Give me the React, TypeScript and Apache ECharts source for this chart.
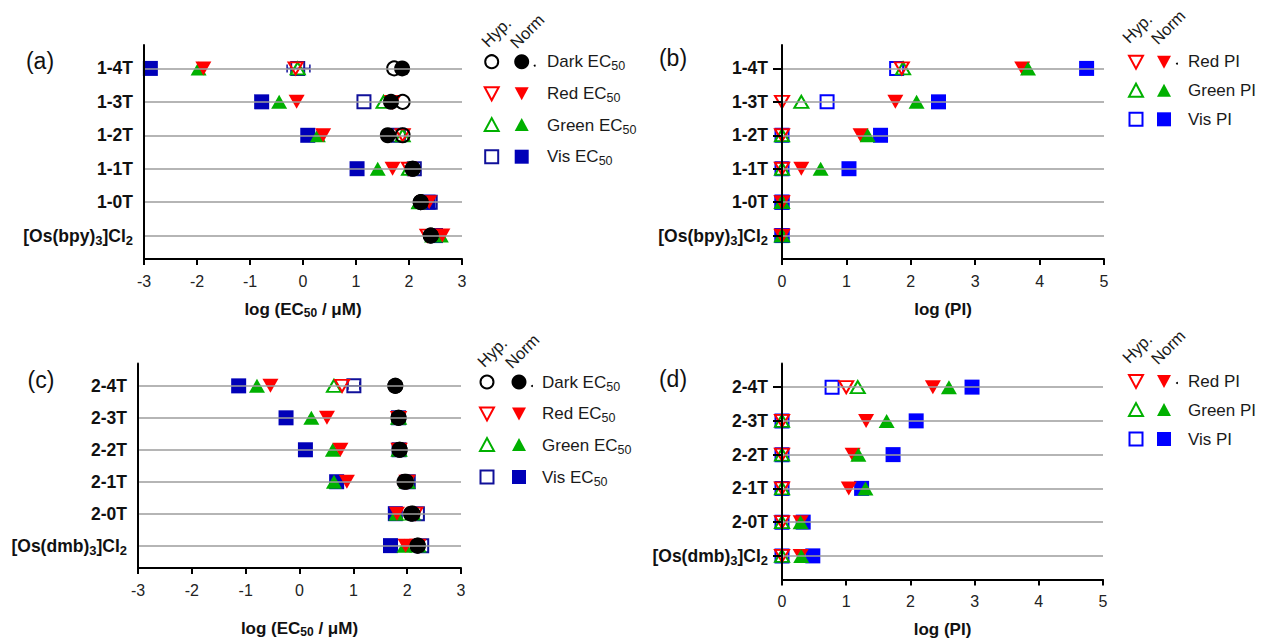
import React, { useEffect, useRef } from 'react';
import * as echarts from 'echarts';

// ---------- categories (top -> bottom) ----------
const catsA = ['1-4T', '1-3T', '1-2T', '1-1T', '1-0T', '[Os(bpy)3]Cl2'];
const catsC = ['2-4T', '2-3T', '2-2T', '2-1T', '2-0T', '[Os(dmb)3]Cl2'];

// ---------- tick values ----------
const ecTicks = [-3, -2, -1, 0, 1, 2, 3];
const piTicks = [0, 1, 2, 3, 4, 5];

// ---------- panel (a): log(EC50 / uM) ----------
const darkHypA = [1.72, 1.88, 1.88, 2.07, 2.22, 2.41];
const darkNormA = [1.87, 1.66, 1.6, 2.07, 2.22, 2.41];
const redHypA = [-0.14, 1.69, 1.88, 2.0, 2.3, 2.35];
const redNormA = [-1.88, -0.12, 0.38, 1.69, 2.38, 2.63];
const greenHypA = [-0.1, 1.52, 1.88, 2.0, 2.2, 2.45];
const greenNormA = [-1.97, -0.45, 0.28, 1.41, 2.18, 2.6];
const visHypA = [-0.1, 1.15, 1.8, 2.1, 2.4, 2.5];
const visNormA = [-2.88, -0.78, 0.09, 1.02, 2.36, 2.5];
const visHypErrA = [[-0.3, 0.13, 0]]; // [low, high, row]

// ---------- panel (c): log(EC50 / uM) ----------
const darkHypC = [1.78, 1.84, 1.86, 1.98, 2.1, 2.2];
const darkNormC = [1.78, 1.84, 1.86, 1.95, 2.07, 2.19];
const redHypC = [0.79, 1.84, 1.85, 2.0, 2.15, 2.2];
const redNormC = [-0.54, 0.51, 0.76, 0.88, 1.81, 1.97];
const greenHypC = [0.64, 1.84, 1.85, 2.0, 2.1, 2.2];
const greenNormC = [-0.79, 0.22, 0.62, 0.64, 1.8, 1.95];
const visHypC = [1.01, 1.84, 1.85, 2.02, 2.19, 2.27];
const visNormC = [-1.13, -0.25, 0.11, 0.69, 1.78, 1.69];
const visHypErrC = [[0.9, 1.12, 0]];

// ---------- panel (b): log(PI) ----------
const redHypB = [1.86, 0, 0, 0, 0, 0];
const redNormB = [3.73, 1.76, 1.22, 0.3, 0, 0];
const greenHypB = [1.88, 0.3, 0, 0, 0, 0];
const greenNormB = [3.82, 2.09, 1.33, 0.6, 0, 0];
const visHypB = [1.78, 0.7, 0, 0, 0, 0];
const visNormB = [4.73, 2.43, 1.53, 1.04, 0, 0];

// ---------- panel (d): log(PI) ----------
const redHypD = [1.0, 0, 0, 0, 0, 0];
const redNormD = [2.35, 1.31, 1.1, 1.04, 0.29, 0.29];
const greenHypD = [1.18, 0, 0, 0, 0, 0];
const greenNormD = [2.6, 1.63, 1.19, 1.3, 0.29, 0.3];
const visHypD = [0.78, 0, 0, 0, 0, 0];
const visNormD = [2.96, 2.09, 1.73, 1.24, 0.33, 0.48];

// ---------- legend labels ----------
const legendEC = ['Dark', 'Red', 'Green', 'Vis'];
const legendPI = ['Red PI', 'Green PI', 'Vis PI'];

const FONT = 'Liberation Sans, Arial, Helvetica, sans-serif';
const RED = '#ff0000';
const GREEN = '#00b000';
const BLUE_A = '#0000b8';
const BLUE_A_OPEN = '#10109a';
const BLUE_B = '#0000ff';
const GRID_GRAY = '#9c9c9c';

const N = 6;
const rowVals = [1, 2, 3, 4, 5, 6];
const rowY = (i: number) => N - i;

function richName(name: string) {
  const m = name.match(/^\[Os\((\w+)\)(\d)\]Cl(\d)$/);
  if (m) return `{b|[Os(${m[1]})}{s|${m[2]}}{b|]Cl}{s|${m[3]}}`;
  return `{b|${name}}`;
}

const labelRich = {
  b: { fontSize: 17.5, fontWeight: 'bold', fontFamily: FONT, color: '#111', lineHeight: 22, verticalAlign: 'middle' },
  s: { fontSize: 13, fontWeight: 'bold', fontFamily: FONT, color: '#111', lineHeight: 13, verticalAlign: 'bottom' },
};

function scatter(
  axis: number,
  values: number[],
  symbol: string,
  color: string,
  hollow: boolean,
  rotate: number,
  size: number | number[],
) {
  return {
    type: 'scatter',
    xAxisIndex: axis,
    yAxisIndex: axis,
    data: values.map((v, i) => [v, rowY(i)]),
    symbol,
    symbolSize: size,
    symbolRotate: rotate,
    silent: true,
    itemStyle: hollow
      ? { color: 'rgba(255,255,255,0)', borderColor: color, borderWidth: 2, opacity: 1 }
      : { color, opacity: 1 },
  };
}

function gridLines(axis: number) {
  return {
    type: 'scatter',
    xAxisIndex: axis,
    yAxisIndex: axis,
    data: [],
    silent: true,
    markLine: {
      silent: true,
      symbol: ['none', 'none'],
      label: { show: false },
      lineStyle: { color: GRID_GRAY, width: 1.5, type: 'solid' },
      data: rowVals.map((v) => ({ yAxis: v })),
    },
  };
}

function errBars(axis: number, data: number[][], color: string) {
  return {
    type: 'custom',
    xAxisIndex: axis,
    yAxisIndex: axis,
    silent: true,
    data: data.map((d) => [d[0], d[1], rowY(d[2])]),
    encode: { x: [0, 1], y: 2 },
    renderItem: (params: any, api: any) => {
      const lo = api.coord([api.value(0), api.value(2)]);
      const hi = api.coord([api.value(1), api.value(2)]);
      const st = { stroke: color, lineWidth: 1.5 };
      return {
        type: 'group',
        children: [
          { type: 'line', shape: { x1: lo[0], y1: lo[1], x2: hi[0], y2: hi[1] }, style: st },
          { type: 'line', shape: { x1: lo[0], y1: lo[1] - 4, x2: lo[0], y2: lo[1] + 4 }, style: st },
          { type: 'line', shape: { x1: hi[0], y1: hi[1] - 4, x2: hi[0], y2: hi[1] + 4 }, style: st },
        ],
      };
    },
  };
}

function xAxisCfg(grid: number, ticks: number[], nameRich: string, nameGap: number) {
  return {
    gridIndex: grid,
    type: 'value',
    min: ticks[0],
    max: ticks[ticks.length - 1],
    interval: 1,
    axisLine: { onZero: false, lineStyle: { color: '#000', width: 2 } },
    axisTick: { show: true, length: 6, lineStyle: { color: '#000', width: 2 } },
    axisLabel: { fontSize: 16, color: '#222', fontFamily: FONT, margin: 14 },
    splitLine: { show: false },
    name: nameRich,
    nameLocation: 'middle',
    nameGap,
    nameTextStyle: {
      rich: {
        b: { fontSize: 17, fontWeight: 'bold', fontFamily: FONT, color: '#111', lineHeight: 20, verticalAlign: 'middle' },
        s: { fontSize: 12, fontWeight: 'bold', fontFamily: FONT, color: '#111', lineHeight: 12, verticalAlign: 'bottom' },
      },
    },
  };
}

function yAxisCfg(grid: number, cats: string[], ticks: boolean, margin: number) {
  return {
    gridIndex: grid,
    type: 'value',
    min: 0.3,
    max: 6.7,
    z: 5,
    axisLine: { onZero: false, lineStyle: { color: '#000', width: 2 } },
    axisTick: { show: ticks, length: 9, customValues: rowVals, lineStyle: { color: '#000', width: 2 } },
    axisLabel: {
      customValues: rowVals,
      margin,
      formatter: (v: number) => richName(cats[N - Math.round(v)]),
      rich: labelRich,
    },
    splitLine: { show: false },
  };
}

// ---------- legend graphics ----------
function openCircle(x: number, y: number) {
  return { type: 'circle', shape: { cx: x, cy: y, r: 6.5 }, style: { fill: 'none', stroke: '#000', lineWidth: 2 } };
}
function fillCircle(x: number, y: number) {
  return { type: 'circle', shape: { cx: x, cy: y, r: 7.5 }, style: { fill: '#000' } };
}
function downTri(x: number, y: number, color: string, hollow: boolean) {
  const pts = [[x - 7, y - 6], [x + 7, y - 6], [x, y + 7]];
  return { type: 'polygon', shape: { points: pts }, style: hollow ? { fill: 'none', stroke: color, lineWidth: 2 } : { fill: color } };
}
function upTri(x: number, y: number, color: string, hollow: boolean) {
  const pts = [[x - 7, y + 6], [x + 7, y + 6], [x, y - 7]];
  return { type: 'polygon', shape: { points: pts }, style: hollow ? { fill: 'none', stroke: color, lineWidth: 2 } : { fill: color } };
}
function square(x: number, y: number, color: string, hollow: boolean) {
  const s = hollow ? 13 : 14;
  return {
    type: 'rect',
    shape: { x: x - s / 2, y: y - s / 2, width: s, height: s },
    style: hollow ? { fill: 'none', stroke: color, lineWidth: 2 } : { fill: color },
  };
}
function dot(x: number, y: number) {
  return { type: 'circle', shape: { cx: x, cy: y, r: 1 }, style: { fill: '#000' } };
}
function legendText(x: number, y: number, text: string) {
  return {
    type: 'text',
    x,
    y,
    style: {
      text,
      align: 'left',
      verticalAlign: 'middle',
      fill: '#1a1a1a',
      rich: {
        b: { fontSize: 17, fontFamily: FONT, fill: '#1a1a1a', lineHeight: 22, verticalAlign: 'middle' },
        s: { fontSize: 12.5, fontFamily: FONT, fill: '#1a1a1a', lineHeight: 12, verticalAlign: 'bottom' },
      },
    },
  };
}
function rotText(x: number, y: number, text: string) {
  return {
    type: 'text',
    x,
    y,
    rotation: Math.PI / 4,
    style: { text, fontSize: 16.5, fontFamily: FONT, fill: '#1a1a1a', align: 'center', verticalAlign: 'middle' },
  };
}
function panelLabel(x: number, y: number, text: string) {
  return {
    type: 'text',
    x,
    y,
    style: { text, fontSize: 23, fontFamily: FONT, fill: '#111', align: 'center', verticalAlign: 'middle' },
  };
}

function legendECGroup(hx: number, nx: number, tx: number, rows: number[], hyp: number[], norm: number[], blue: string, blueOpen: string) {
  const els: any[] = [rotText(hyp[0], hyp[1], 'Hyp.'), rotText(norm[0], norm[1], 'Norm')];
  legendEC.forEach((name, i) => {
    const y = rows[i];
    if (i === 0) { els.push(openCircle(hx, y), fillCircle(nx, y), dot(nx + 13, y + 4)); }
    if (i === 1) { els.push(downTri(hx, y, RED, true), downTri(nx, y, RED, false)); }
    if (i === 2) { els.push(upTri(hx, y, GREEN, true), upTri(nx, y, GREEN, false)); }
    if (i === 3) { els.push(square(hx, y, blueOpen, true), square(nx, y, blue, false)); }
    els.push(legendText(tx, y, `{b|${name} EC}{s|50}`));
  });
  return els;
}
function legendPIGroup(hx: number, nx: number, tx: number, rows: number[], hyp: number[], norm: number[]) {
  const els: any[] = [rotText(hyp[0], hyp[1], 'Hyp.'), rotText(norm[0], norm[1], 'Norm')];
  legendPI.forEach((name, i) => {
    const y = rows[i];
    if (i === 0) { els.push(downTri(hx, y, RED, true), downTri(nx, y, RED, false), dot(nx + 13, y + 2)); }
    if (i === 1) { els.push(upTri(hx, y, GREEN, true), upTri(nx, y, GREEN, false)); }
    if (i === 2) { els.push(square(hx, y, BLUE_B, true), square(nx, y, BLUE_B, false)); }
    els.push(legendText(tx, y, `{b|${name}}`));
  });
  return els;
}

const TRI = [16, 14];
const SQ = 15;

function ecSeries(axis: number, d: any) {
  return [
    gridLines(axis),
    errBars(axis, d.err, BLUE_A_OPEN),
    scatter(axis, d.visHyp, 'rect', BLUE_A_OPEN, true, 0, 13),
    scatter(axis, d.greenHyp, 'triangle', GREEN, true, 0, [14, 12]),
    scatter(axis, d.redHyp, 'triangle', RED, true, 180, [14, 12]),
    scatter(axis, d.visNorm, 'rect', BLUE_A, false, 0, SQ),
    scatter(axis, d.greenNorm, 'triangle', GREEN, false, 0, TRI),
    scatter(axis, d.redNorm, 'triangle', RED, false, 180, TRI),
    scatter(axis, d.darkHyp, 'circle', '#000', true, 0, 14),
    scatter(axis, d.darkNorm, 'circle', '#000', false, 0, 16),
  ];
}
function piSeries(axis: number, d: any) {
  return [
    gridLines(axis),
    scatter(axis, d.visNorm, 'rect', BLUE_B, false, 0, SQ),
    scatter(axis, d.redNorm, 'triangle', RED, false, 180, TRI),
    scatter(axis, d.greenNorm, 'triangle', GREEN, false, 0, TRI),
    scatter(axis, d.visHyp, 'rect', BLUE_B, true, 0, 13),
    scatter(axis, d.greenHyp, 'triangle', GREEN, true, 0, [14, 12]),
    scatter(axis, d.redHyp, 'triangle', RED, true, 180, [14, 12]),
  ];
}

export default function App() {
  const ref = useRef<HTMLDivElement>(null);
  useEffect(() => {
    if (!ref.current) return;
    const chart = echarts.init(ref.current, null, { renderer: 'svg' });
    const ecName = '{b|log (EC}{s|50}{b| / μM)}';
    const piName = '{b|log (PI)}';
    const option: any = {
      animation: false,
      backgroundColor: '#ffffff',
      textStyle: { fontFamily: FONT },
      grid: [
        { left: 144, top: 45, width: 318, height: 214 },
        { left: 782, top: 45, width: 322, height: 214 },
        { left: 138, top: 363.5, width: 323, height: 216 },
        { left: 782, top: 363.5, width: 321, height: 216 },
      ],
      xAxis: [
        xAxisCfg(0, ecTicks, ecName, 40),
        xAxisCfg(1, piTicks, piName, 40),
        xAxisCfg(2, ecTicks, ecName, 50),
        xAxisCfg(3, piTicks, piName, 40),
      ],
      yAxis: [
        yAxisCfg(0, catsA, false, 11),
        yAxisCfg(1, catsA, true, 14),
        yAxisCfg(2, catsC, false, 11),
        yAxisCfg(3, catsC, true, 14),
      ],
      series: [
        ...ecSeries(0, {
          darkHyp: darkHypA, darkNorm: darkNormA, redHyp: redHypA, redNorm: redNormA,
          greenHyp: greenHypA, greenNorm: greenNormA, visHyp: visHypA, visNorm: visNormA, err: visHypErrA,
        }),
        ...piSeries(1, {
          redHyp: redHypB, redNorm: redNormB, greenHyp: greenHypB, greenNorm: greenNormB, visHyp: visHypB, visNorm: visNormB,
        }),
        ...ecSeries(2, {
          darkHyp: darkHypC, darkNorm: darkNormC, redHyp: redHypC, redNorm: redNormC,
          greenHyp: greenHypC, greenNorm: greenNormC, visHyp: visHypC, visNorm: visNormC, err: visHypErrC,
        }),
        ...piSeries(3, {
          redHyp: redHypD, redNorm: redNormD, greenHyp: greenHypD, greenNorm: greenNormD, visHyp: visHypD, visNorm: visNormD,
        }),
      ],
      graphic: [
        panelLabel(40, 61, '(a)'),
        panelLabel(673, 58, '(b)'),
        panelLabel(41, 380, '(c)'),
        panelLabel(673, 379, '(d)'),
        ...legendECGroup(491.7, 521.7, 547, [61.7, 93.3, 125, 156.7], [496, 32], [527, 31], BLUE_A, BLUE_A_OPEN),
        ...legendECGroup(487, 519, 542, [382, 413.5, 445, 477], [492, 352], [522, 351], BLUE_A, BLUE_A_OPEN),
        ...legendPIGroup(1136, 1164, 1188, [61.7, 90.7, 119.3], [1137, 28], [1168, 27]),
        ...legendPIGroup(1136, 1164, 1188, [381, 410, 439], [1137, 348], [1168, 347]),
      ],
    };
    chart.setOption(option);
    return () => chart.dispose();
  }, []);
  return (
    <div
      ref={ref}
      style={{ position: 'absolute', left: 0, top: 0, width: 1261, height: 639, background: '#fff' }}
    />
  );
}
